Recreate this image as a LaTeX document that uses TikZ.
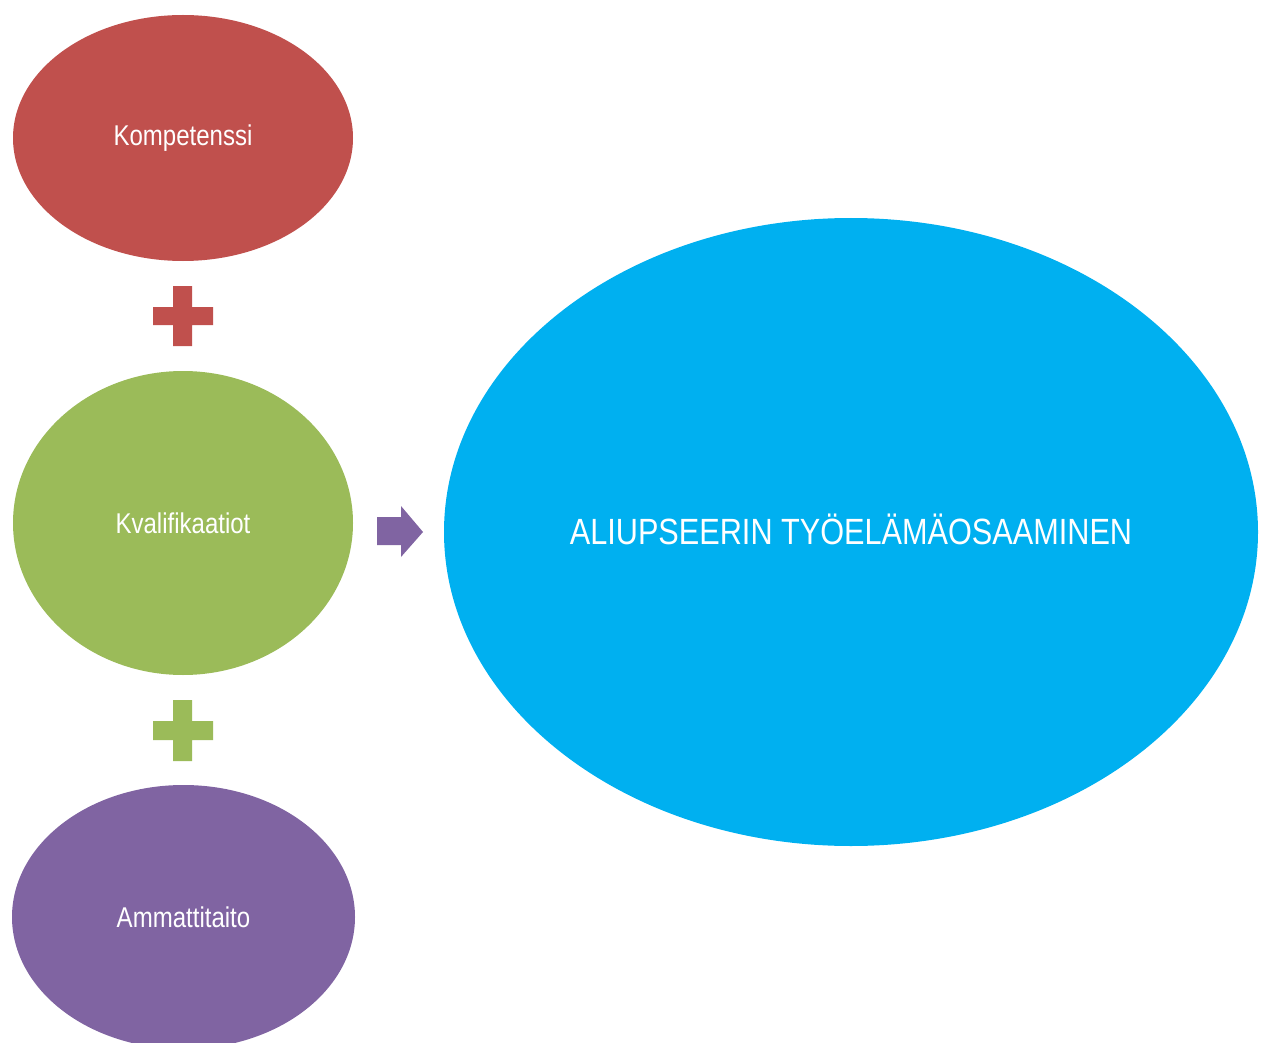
\documentclass[tikz,border=0pt]{standalone}
\usepackage{fontspec}
\setmainfont{Liberation Sans}[FakeStretch=0.84]
\usetikzlibrary{shapes.geometric}
\definecolor{cred}{HTML}{C0504D}
\definecolor{cgreen}{HTML}{9BBB59}
\definecolor{cpurple}{HTML}{8064A2}
\definecolor{cblue}{HTML}{00B0F0}
\tikzset{
  blob/.style={ellipse, inner sep=0pt, text=white, font=\fontsize{28.6}{31}\selectfont},
}
\begin{document}
\begin{tikzpicture}[x=1pt,y=-1pt]
\useasboundingbox (0,0) rectangle (1261,1043);
\node[blob, fill=cred, minimum width=340pt, minimum height=246pt] (komp) at (183,138) {Kompetenssi};
\node[blob, fill=cgreen, minimum width=340pt, minimum height=304pt] (kval) at (183,523) {Kvalifikaatiot};
\node[blob, fill=cpurple, minimum width=343pt, minimum height=264pt] (amm) at (183.5,917) {Ammattitaito};
\node[ellipse, inner sep=0pt, fill=cblue, minimum width=814pt, minimum height=628pt] (big) at (851,532) {};
\node[text=white, font=\fontsize{36.5}{40}\selectfont, inner sep=0pt] (bigtext) at (851,529) {ALIUPSEERIN TYÖELÄMÄOSAAMINEN};
% plus signs
\fill[cred] (173,286) -- (192,286) -- (192,307) -- (213,307) -- (213,325) -- (192,325) -- (192,346) -- (173,346) -- (173,325) -- (153,325) -- (153,307) -- (173,307) -- cycle;
\fill[cgreen] (173,700) -- (192,700) -- (192,721) -- (213,721) -- (213,740) -- (192,740) -- (192,761) -- (173,761) -- (173,740) -- (153,740) -- (153,721) -- (173,721) -- cycle;
% arrow
\fill[cpurple] (377,517) -- (401,517) -- (401,506) -- (423,532) -- (401,557) -- (401,545) -- (377,545) -- cycle;
\end{tikzpicture}
\end{document}
